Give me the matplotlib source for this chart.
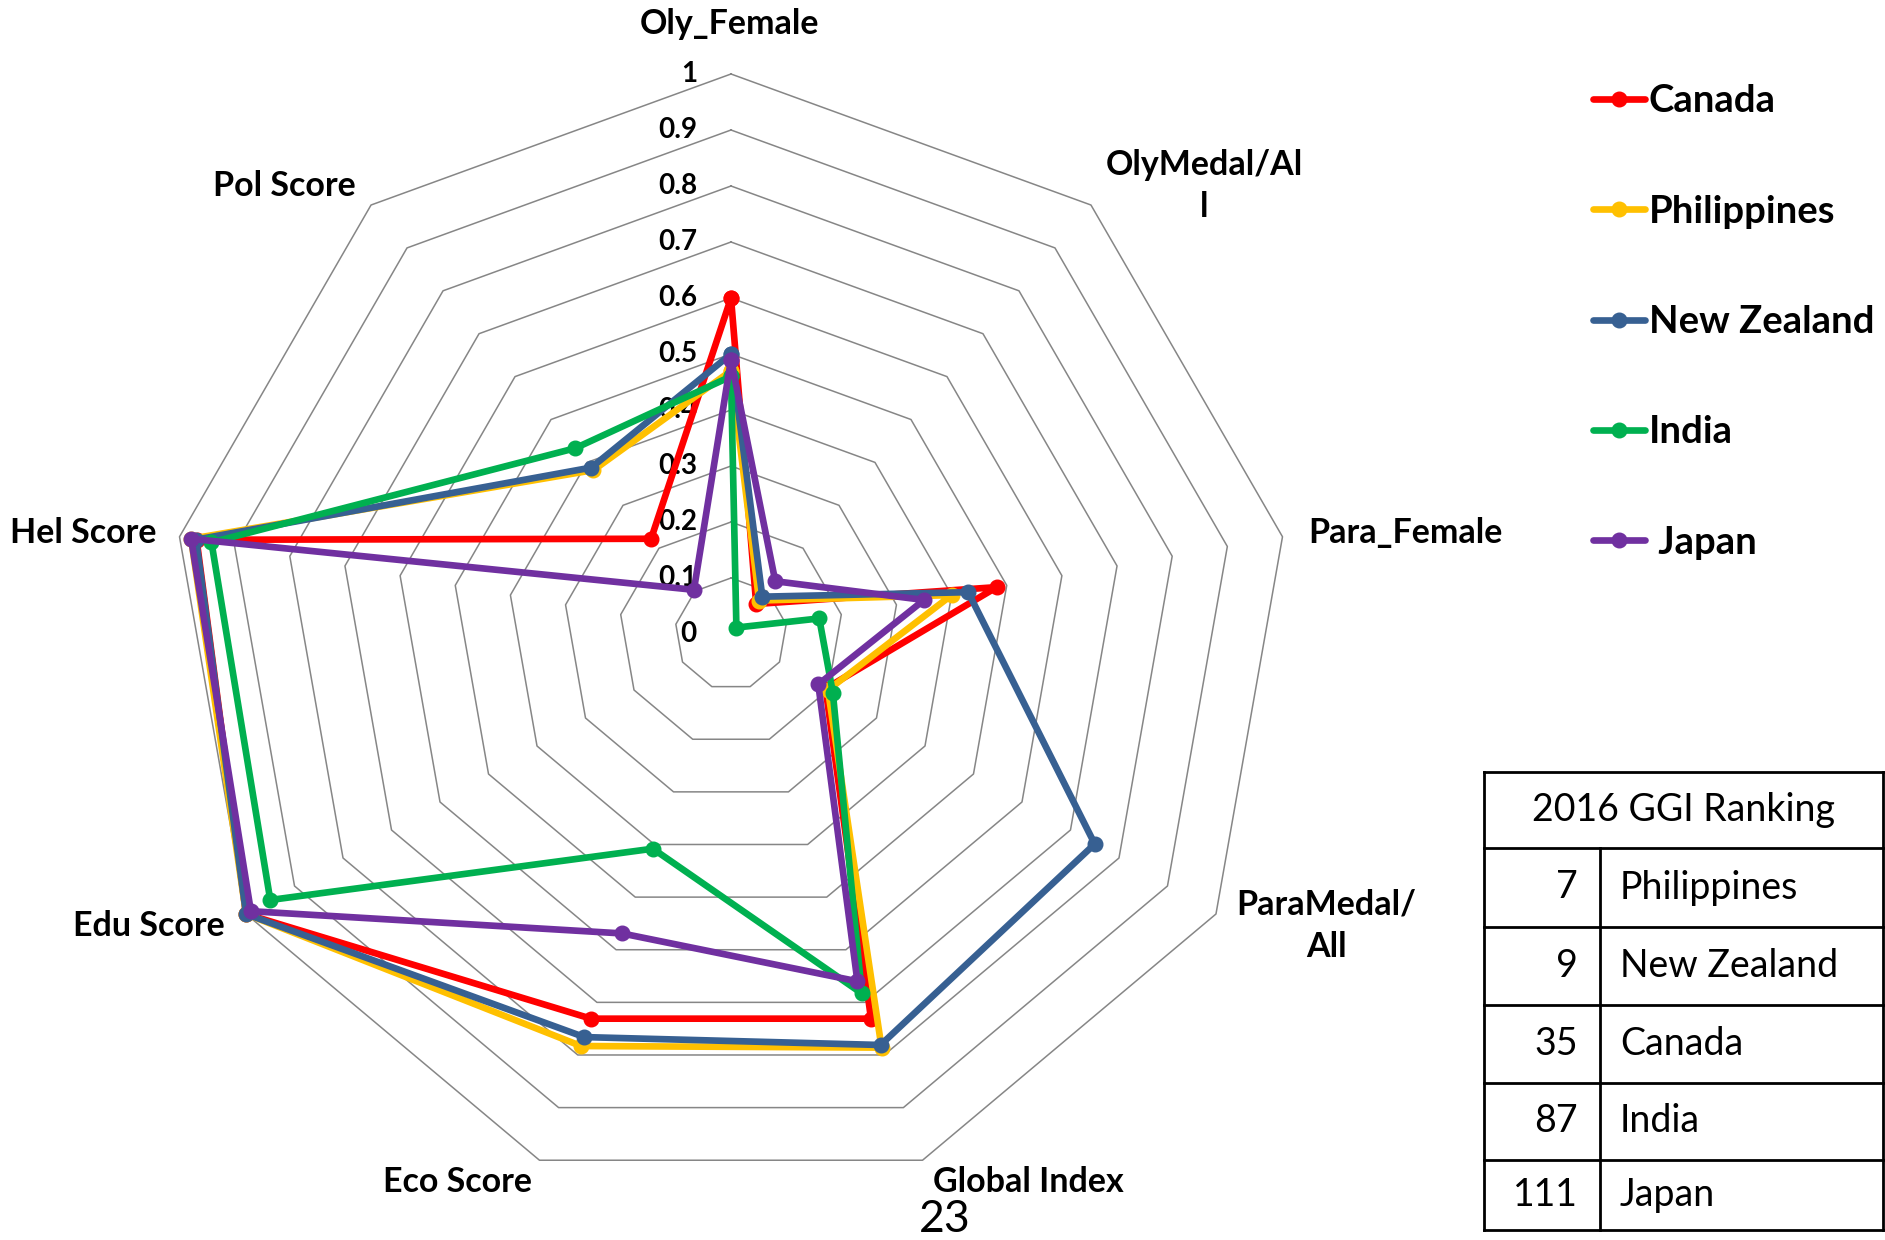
import numpy as np
import matplotlib
matplotlib.use("Agg")
import matplotlib.pyplot as plt
from matplotlib.lines import Line2D
from matplotlib.transforms import offset_copy

plt.rcParams['font.family'] = ['Lato', 'DejaVu Sans']

# Categories around the radar (clockwise from top)
categories = ["Oly_Female", "OlyMedal/All", "Para_Female", "ParaMedal/All",
              "Global Index", "Eco Score", "Edu Score", "Hel Score", "Pol Score"]
axis_labels = ["Oly_Female", "OlyMedal/Al\nl", "Para_Female", "ParaMedal/\nAll",
               "Global Index", "Eco Score", "Edu Score", "Hel Score", "Pol Score"]

countries = ["Canada", "Philippines", "New Zealand", "India", "Japan"]
legend_labels = ["Canada", "Philippines", "New Zealand", "India", " Japan"]

canada      = [0.60, 0.070, 0.482, 0.195, 0.731, 0.731, 1.000, 0.969, 0.222]
philippines = [0.47, 0.078, 0.400, 0.200, 0.786, 0.783, 1.000, 0.979, 0.382]
new_zealand = [0.50, 0.087, 0.430, 0.750, 0.781, 0.766, 1.000, 0.970, 0.388]
india       = [0.46, 0.015, 0.160, 0.210, 0.683, 0.408, 0.950, 0.942, 0.433]
japan       = [0.49, 0.123, 0.350, 0.180, 0.660, 0.569, 0.990, 0.979, 0.103]
series = [canada, philippines, new_zealand, india, japan]

colors = ["#FF0000", "#FFC000", "#376092", "#00B050", "#7030A0"]

grid_levels = [0.1, 0.2, 0.3, 0.4, 0.5, 0.6, 0.7, 0.8, 0.9, 1.0]
tick_labels = ["0", "0.1", "0.2", "0.3", "0.4", "0.5", "0.6", "0.7", "0.8", "0.9", "1"]
tick_values = [0.0, 0.1, 0.2, 0.3, 0.4, 0.5, 0.6, 0.7, 0.8, 0.9, 1.0]

# Ranking table
rank_title = "2016 GGI Ranking"
rank_numbers = ["7", "9", "35", "87", "111"]
rank_names = ["Philippines", "New Zealand", "Canada", "India", "Japan"]

W, H = 1885, 1240
fig = plt.figure(figsize=(W / 100, H / 100), dpi=100)
fig.patch.set_facecolor("white")


def fx(px):
    return px / W


def fy(py):
    return 1 - py / H


cx, cy, R = 731, 634, 560
ax = fig.add_axes([fx(cx - R), fy(cy + R), 2 * R / W, 2 * R / H], projection="polar")
ax.set_theta_offset(np.pi / 2)
ax.set_theta_direction(-1)
ax.set_ylim(0, 1)
ax.grid(False)
ax.spines["polar"].set_visible(False)
ax.set_xticks([])
ax.set_yticks([])
ax.patch.set_alpha(0)

n = len(categories)
theta = np.linspace(0, 2 * np.pi, n, endpoint=False)
theta_closed = np.append(theta, theta[0])

# Polygon gridlines
for lvl in grid_levels:
    ax.plot(theta_closed, [lvl] * (n + 1), color="#868686", lw=1.1,
            zorder=1, clip_on=False)

# Radial value labels
lbl_tr = offset_copy(ax.transData, fig=fig, x=-34, y=0, units="dots")
for v, t in zip(tick_values, tick_labels):
    ax.text(0, v, t, transform=lbl_tr, ha="right", va="center",
            fontsize=20, fontweight="bold", color="black", zorder=2)

# Data series
handles = []
for vals, col, lab in zip(series, colors, legend_labels):
    v = np.append(vals, vals[0])
    ln, = ax.plot(theta_closed, v, color=col, lw=4.8, marker="o",
                  markersize=10.5, clip_on=False, zorder=3, label=lab,
                  solid_joinstyle="round", solid_capstyle="round")
    handles.append(ln)

# Category labels
label_pos = [(729, 24), (1204, 186), (1405, 533), (1326, 926),
             (1028, 1182), (457, 1182), (149, 926), (83, 533), (284, 186)]
for lab, (px, py) in zip(axis_labels, label_pos):
    fig.text(fx(px), fy(py), lab, ha="center", va="center", fontsize=24.5,
             fontweight="bold", linespacing=1.4)

# Legend
leg = fig.legend(handles=handles, labels=legend_labels, loc="upper left",
                 bbox_to_anchor=(fx(1578), fy(69)), frameon=False,
                 prop={"weight": "bold", "size": 27.5}, handlelength=1.35,
                 handletextpad=0.1, labelspacing=2.0, borderaxespad=0)

# Ranking table
tl, tr_, tc = 1484, 1883, 1600
row_y = [772, 848, 927, 1005, 1083, 1160, 1230]
lw_t = 2.0
fig.add_artist(Line2D([fx(tl), fx(tl)], [fy(row_y[0]), fy(row_y[-1])], color="black", lw=lw_t))
fig.add_artist(Line2D([fx(tr_), fx(tr_)], [fy(row_y[0]), fy(row_y[-1])], color="black", lw=lw_t))
fig.add_artist(Line2D([fx(tc), fx(tc)], [fy(row_y[1]), fy(row_y[-1])], color="black", lw=lw_t))
for yy in row_y:
    fig.add_artist(Line2D([fx(tl), fx(tr_)], [fy(yy), fy(yy)], color="black", lw=lw_t))
fig.text(fx((tl + tr_) / 2), fy((row_y[0] + row_y[1]) / 2), rank_title,
         ha="center", va="center", fontsize=27)
for i, (num, name) in enumerate(zip(rank_numbers, rank_names)):
    ymid = (row_y[i + 1] + row_y[i + 2]) / 2
    fig.text(fx(1578), fy(ymid), num, ha="right", va="center", fontsize=27)
    fig.text(fx(1620), fy(ymid), name, ha="left", va="center", fontsize=27)

# Page number
fig.text(fx(945), fy(1220), "23", ha="center", va="center", fontsize=32)

fig.savefig("out.png", dpi=100, facecolor="white")
